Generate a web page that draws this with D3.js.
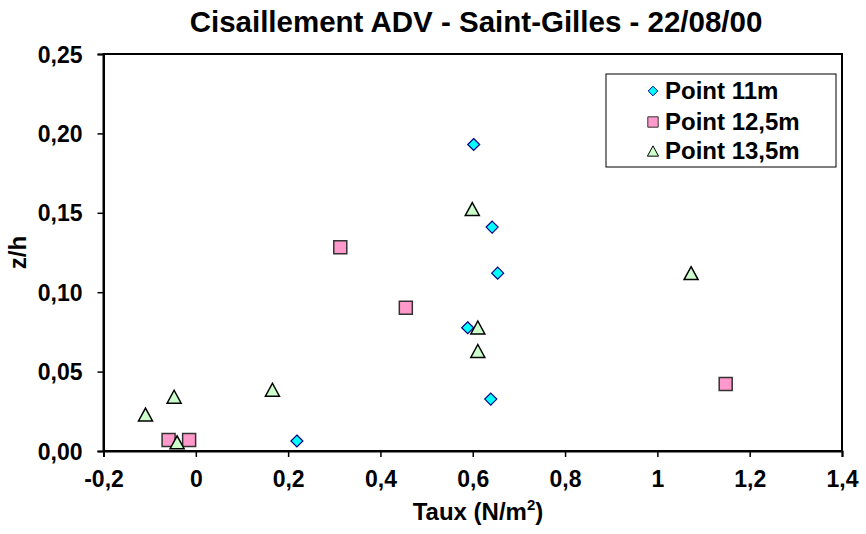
<!DOCTYPE html>
<html>
<head>
<meta charset="utf-8">
<script src="https://cdn.jsdelivr.net/npm/d3@7"></script>
<style>
  html, body { margin: 0; padding: 0; background: #fff; }
  svg { display: block; }
  text { font-family: "Liberation Sans", Arial, sans-serif; font-weight: bold; fill: #000; }
</style>
</head>
<body>
<svg id="chart" width="866" height="534"></svg>
<script>
// ---- Data ----
const seriesNames = ["Point 11m", "Point 12,5m", "Point 13,5m"];
const point11x = [0.602, 0.642, 0.654, 0.589, 0.639, 0.219];
const point11y = [0.193, 0.141, 0.112, 0.0776, 0.0327, 0.0063];
const point125x = [0.313, 0.455, 1.148, -0.059, -0.0145];
const point125y = [0.1283, 0.0902, 0.0422, 0.0069, 0.0069];
const point135x = [1.073, 0.599, 0.611, 0.611, -0.109, -0.047, 0.166, -0.0405];
const point135y = [0.112, 0.1524, 0.0778, 0.063, 0.023, 0.0342, 0.0386, 0.0055];
const xTicks = [-0.2, 0, 0.2, 0.4, 0.6, 0.8, 1, 1.2, 1.4];
const yTicks = [0, 0.05, 0.10, 0.15, 0.20, 0.25];
const titleText = "Cisaillement ADV - Saint-Gilles - 22/08/00";

// ---- Layout ----
const svg = d3.select("#chart");
const L = 103.5, R = 842, T = 54, B = 451;
const x = d3.scaleLinear().domain([-0.2, 1.4]).range([L, R]);
const y = d3.scaleLinear().domain([0, 0.25]).range([B, T]);

const fmtX = v => (Math.abs(v) < 1e-9 ? "0" : String(+v.toFixed(2))).replace(".", ",");
const fmtY = v => v.toFixed(2).replace(".", ",");

// Title
svg.append("text").attr("x", 476).attr("y", 32).attr("text-anchor", "middle")
  .style("font-size", "29.5px").text(titleText);

// Plot frame
svg.append("rect").attr("x", L).attr("y", T).attr("width", R - L).attr("height", B - T)
  .attr("fill", "none").attr("stroke", "#000").attr("stroke-width", 2);

// Axes
const xAxis = d3.axisBottom(x).tickValues(xTicks).tickFormat(fmtX).tickSize(6).tickPadding(14);
const gx = svg.append("g").attr("transform", `translate(0,${B})`).call(xAxis);
const yAxis = d3.axisLeft(y).tickValues(yTicks).tickFormat(fmtY).tickSize(6).tickPadding(15);
const gy = svg.append("g").attr("transform", `translate(${L},0)`).call(yAxis);
[gx, gy].forEach(g => {
  g.select(".domain").attr("stroke", "#000").attr("stroke-width", 2);
  g.selectAll(".tick line").attr("stroke", "#000").attr("stroke-width", 1.5);
  g.selectAll(".tick text").style("font-size", "23px").style("font-family", "'Liberation Sans', Arial, sans-serif").style("font-weight", "bold").attr("fill", "#000");
});
gy.selectAll(".tick text").attr("dy", "0.35em");

// Axis titles
const xt = svg.append("text").attr("x", 478).attr("y", 520).attr("text-anchor", "middle").style("font-size", "24px");
xt.append("tspan").text("Taux (N/m");
xt.append("tspan").attr("dy", -10).style("font-size", "15px").text("2");
xt.append("tspan").attr("dy", 10).text(")");

svg.append("text").attr("transform", `translate(26,${(T + B) / 2}) rotate(-90)`)
  .attr("text-anchor", "middle").style("font-size", "24px").text("z/h");

// Markers
function diamond(s) { const h = s / 2; return `M0,${-h}L${h},0L0,${h}L${-h},0Z`; }
function square(s) { const h = s / 2; return `M${-h},${-h}H${h}V${h}H${-h}Z`; }
function triangle(s) { const w = s / 2, h = s * 0.46; return `M0,${-h}L${w},${h}L${-w},${h}Z`; }

const styles = [
  { shape: diamond, size: 12, fill: "#00FFFF", stroke: "#000080", sw: 1.2 },
  { shape: square, size: 13, fill: "#FF99CC", stroke: "#333", sw: 1.5 },
  { shape: triangle, size: 14, fill: "#CCFFCC", stroke: "#000", sw: 1.5 }
];
const seriesData = [
  point11x.map((v, i) => [v, point11y[i]]),
  point125x.map((v, i) => [v, point125y[i]]),
  point135x.map((v, i) => [v, point135y[i]])
];
seriesData.forEach((pts, si) => {
  const st = styles[si];
  svg.append("g").selectAll("path").data(pts).join("path")
    .attr("d", st.shape(st.size))
    .attr("transform", d => `translate(${x(d[0])},${y(d[1])})`)
    .attr("fill", st.fill).attr("stroke", st.stroke).attr("stroke-width", st.sw);
});

// Legend
const lg = svg.append("g");
lg.append("rect").attr("x", 606).attr("y", 74).attr("width", 230).attr("height", 93)
  .attr("fill", "#fff").attr("stroke", "#000").attr("stroke-width", 1);
const rowY = [91, 122, 151];
seriesNames.forEach((name, i) => {
  const st = styles[i];
  lg.append("path").attr("d", st.shape(st.size * 0.8))
    .attr("transform", `translate(653,${rowY[i]})`)
    .attr("fill", st.fill).attr("stroke", st.stroke).attr("stroke-width", 1);
  lg.append("text").attr("x", 665).attr("y", rowY[i]).attr("dy", "0.35em")
    .style("font-size", "24px").text(name);
});
</script>
</body>
</html>
